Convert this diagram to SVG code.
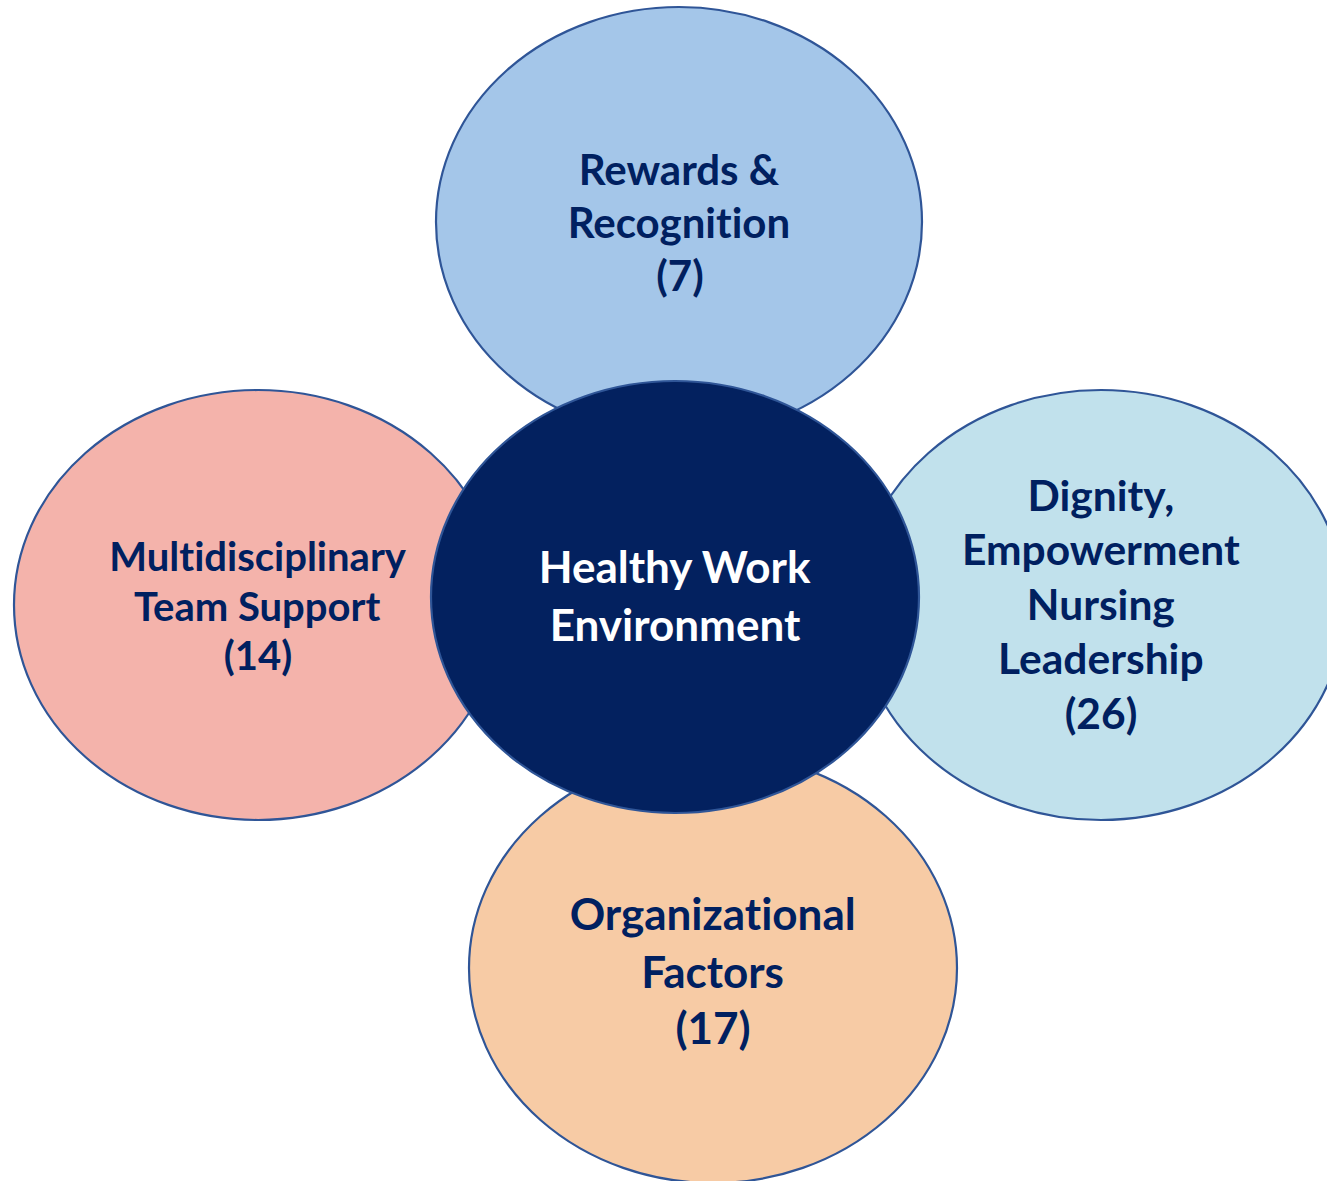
<svg xmlns="http://www.w3.org/2000/svg" width="1327" height="1181" viewBox="0 0 1327 1181">
  <style>
    .bubble { stroke: #2F5597; stroke-width: 2.2; }
    .label { font-family: Lato, "Open Sans", "Liberation Sans", sans-serif; font-weight: bold; text-anchor: middle; fill: #002060; font-variant-ligatures: none; font-feature-settings: "liga" 0, "clig" 0; }
    .hub { fill: #FFFFFF; }
  </style>
  <rect width="1327" height="1181" fill="#FFFFFF"/>

  <g id="connectors"></g>

  <g id="rewards">
    <ellipse class="bubble" cx="679" cy="222" rx="243" ry="215" fill="#A4C6E9"/>
    <text class="label" font-size="42">
      <tspan x="684" y="185">Rewards &amp;</tspan>
      <tspan x="684" y="238">Recognition</tspan>
      <tspan x="680" y="291">(7)</tspan>
    </text>
  </g>

  <g id="team-support">
    <ellipse class="bubble" cx="258" cy="605" rx="244" ry="215" fill="#F4B3AB"/>
    <text class="label" font-size="40">
      <tspan x="262" y="571">Multidisciplinary</tspan>
      <tspan x="262" y="621">Team Support</tspan>
      <tspan x="258" y="670">(14)</tspan>
    </text>
  </g>

  <g id="dignity">
    <ellipse class="bubble" cx="1101" cy="605" rx="244" ry="215" fill="#C1E1EC"/>
    <text class="label" font-size="42.5">
      <tspan x="1106" y="511">Dignity,</tspan>
      <tspan x="1106" y="565">Empowerment</tspan>
      <tspan x="1106" y="620">Nursing</tspan>
      <tspan x="1106" y="674">Leadership</tspan>
      <tspan x="1101" y="729">(26)</tspan>
    </text>
  </g>

  <g id="organizational">
    <ellipse class="bubble" cx="713" cy="968" rx="244" ry="215" fill="#F7CBA5"/>
    <text class="label" font-size="44">
      <tspan x="718" y="930">Organizational</tspan>
      <tspan x="718" y="988">Factors</tspan>
      <tspan x="713" y="1044">(17)</tspan>
    </text>
  </g>

  <g id="healthy-work-environment">
    <ellipse class="bubble" cx="675" cy="597" rx="244" ry="216" fill="#03215F"/>
    <text class="label hub" font-size="44">
      <tspan x="680" y="583">Healthy Work</tspan>
      <tspan x="675" y="641">Environment</tspan>
    </text>
  </g>
</svg>
